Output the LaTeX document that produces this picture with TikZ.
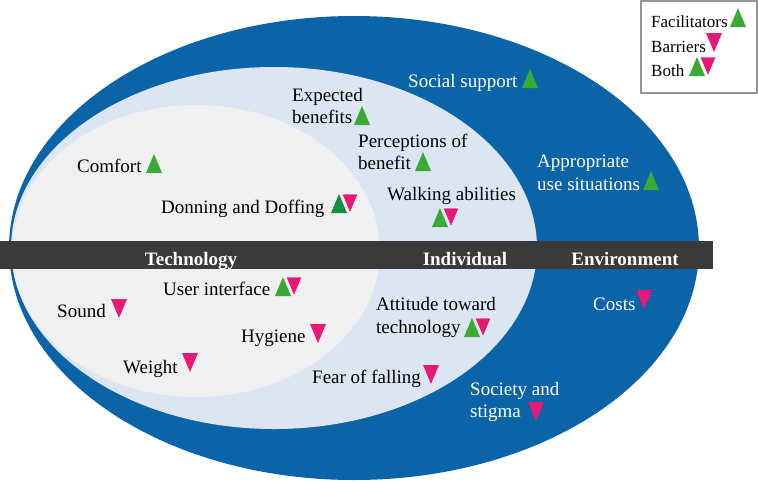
\documentclass[tikz,border=0pt]{standalone}
\usepackage{fontspec}
\setmainfont{Liberation Serif}
\definecolor{outerblue}{RGB}{12,100,168}
\definecolor{midblue}{RGB}{220,230,242}
\definecolor{innergray}{RGB}{240,240,240}
\definecolor{bargray}{RGB}{58,58,58}
\definecolor{facgreen}{RGB}{58,170,53}
\definecolor{facdark}{RGB}{26,140,62}
\definecolor{barpink}{RGB}{230,24,120}
\definecolor{legendedge}{RGB}{150,150,150}
\tikzset{
  lbl/.style={anchor=base west, inner sep=0pt, font=\fontsize{19}{22}\selectfont, text=black},
  wlbl/.style={lbl, text=white},
  barlbl/.style={anchor=base, inner sep=0pt, font=\fontsize{19}{22}\selectfont\bfseries, text=white},
  leglbl/.style={anchor=base west, inner sep=0pt, font=\fontsize{17}{20}\selectfont, text=black},
  pics/facup/.style={code={\fill[#1] (0,0) -- (16,0) -- (8,-19) -- cycle;}},
  pics/facup/.default=facgreen,
  pics/bardown/.style={code={\fill[barpink] (0,-19) -- (16,-19) -- (8,0) -- cycle;}},
  pics/bothpair/.style={code={
    \fill[#1] (0,0) -- (16,0) -- (8,-19) -- cycle;
    \filldraw[barpink, draw=white, line width=0.6pt] (11,-19) -- (27,-19) -- (19,0) -- cycle;}},
  pics/bothpair/.default=facgreen
}
\begin{document}
\begin{tikzpicture}[x=1pt,y=-1pt]
\useasboundingbox (0,0) rectangle (758,483);
% ellipses
\fill[outerblue] (354,248) ellipse [x radius=345pt, y radius=232pt];
\fill[midblue] (274,248) ellipse [x radius=263pt, y radius=181pt];
\fill[innergray] (196,251) ellipse [x radius=184pt, y radius=146pt];
% band
\fill[bargray] (0,241) rectangle (713,269);
\node[barlbl] (tech) at (191,265) {Technology};
\node[barlbl] (indiv) at (465,265) {Individual};
\node[barlbl] (env) at (625,265) {Environment};
% technology (upper)
\node[lbl] (comfort) at (77,172) {Comfort};
\pic at (146,173) {facup};
\node[lbl] (donning) at (161,213) {Donning and Doffing};
\pic at (331,213) {bothpair=facdark};
% individual (upper)
\node[lbl] (exp1) at (292,101) {Expected};
\node[lbl] (exp2) at (292,123) {benefits};
\pic at (354,125) {facup};
\node[lbl] (perc1) at (358,147) {Perceptions of};
\node[lbl] (perc2) at (358,169) {benefit};
\pic at (415,171) {facup};
\node[lbl] (walk) at (387,200) {Walking abilities};
\pic at (432,227) {bothpair};
% environment (upper)
\node[wlbl] (social) at (408,87) {Social support};
\pic at (522,88) {facup};
\node[wlbl] (appr1) at (537,167) {Appropriate};
\node[wlbl] (appr2) at (537,190) {use situations};
\pic at (643,190) {facup};
% technology (lower)
\node[lbl] (ui) at (163,295) {User interface};
\pic at (275,296) {bothpair};
\node[lbl] (sound) at (57,317) {Sound};
\pic at (111,318) {bardown};
\node[lbl] (hyg) at (241,342) {Hygiene};
\pic at (310,343) {bardown};
\node[lbl] (weight) at (123,373) {Weight};
\pic at (182,372) {bardown};
% individual (lower)
\node[lbl] (att1) at (376,310) {Attitude toward};
\node[lbl] (att2) at (376,333) {technology};
\pic at (464,337) {bothpair};
\node[lbl] (fear) at (312,383) {Fear of falling};
\pic at (423,384) {bardown};
% environment (lower)
\node[wlbl] (costs) at (593,310) {Costs};
\pic at (636,309) {bardown};
\node[wlbl] (soc1) at (470,395) {Society and};
\node[wlbl] (soc2) at (470,417) {stigma};
\pic at (528,421) {bardown};
% legend
\draw[legendedge, line width=1.5pt, fill=white] (641,1) rectangle (757,93);
\node[leglbl] (lfac) at (651,27) {Facilitators};
\pic at (730,27) {facup};
\node[leglbl] (lbar) at (651,52) {Barriers};
\pic at (706,52) {bardown};
\node[leglbl] (lboth) at (651,76) {Both};
\pic at (689,76) {bothpair};
\end{tikzpicture}
\end{document}
